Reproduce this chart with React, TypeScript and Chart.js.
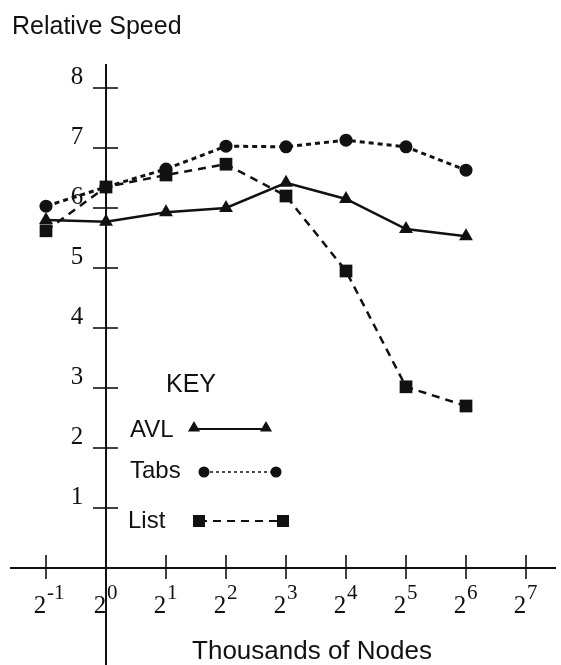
import React, { useEffect, useRef } from "react";
import { Chart, registerables } from "chart.js";

Chart.register(...registerables);

const exponents = [-1, 0, 1, 2, 3, 4, 5, 6];
const avlValues = [5.8, 5.77, 5.93, 6.0, 6.42, 6.15, 5.65, 5.53];
const tabsValues = [6.03, 6.35, 6.65, 7.03, 7.02, 7.13, 7.02, 6.63];
const listValues = [5.62, 6.35, 6.55, 6.73, 6.2, 4.95, 3.02, 2.7];
const yTicks = [1, 2, 3, 4, 5, 6, 7, 8];
const xTicks = [-1, 0, 1, 2, 3, 4, 5, 6, 7];
const yTitle = "Relative Speed";
const xTitle = "Thousands of Nodes";
const keyTitle = "KEY";
const seriesNames = ["AVL", "Tabs", "List"];

const SANS = "'Liberation Sans', Arial, sans-serif";
const SERIF = "'Liberation Serif', 'Times New Roman', serif";

const toPts = (vals: number[]) => vals.map((v, i) => ({ x: exponents[i], y: v }));

const axesPlugin = {
  id: "customAxes",
  beforeDatasetsDraw(chart: any) {
    const { ctx, chartArea, scales } = chart;
    const xs = scales.x;
    const ys = scales.y;
    const ax = xs.getPixelForValue(0);
    const ay = ys.getPixelForValue(0);
    ctx.save();
    ctx.strokeStyle = "#111";
    ctx.lineWidth = 2;
    ctx.beginPath();
    ctx.moveTo(ax, chartArea.top);
    ctx.lineTo(ax, chartArea.bottom);
    ctx.moveTo(chartArea.left, ay);
    ctx.lineTo(chartArea.right, ay);
    ctx.stroke();
    // y ticks
    ctx.lineWidth = 1.6;
    ctx.fillStyle = "#111";
    ctx.font = `25px ${SERIF}`;
    ctx.textAlign = "center";
    ctx.textBaseline = "middle";
    yTicks.forEach((t) => {
      const py = ys.getPixelForValue(t);
      ctx.beginPath();
      ctx.moveTo(ax - 13, py);
      ctx.lineTo(ax + 12, py);
      ctx.stroke();
      ctx.fillText(String(t), ax - 29, py - 11);
    });
    // x ticks
    xTicks.forEach((t) => {
      const px = xs.getPixelForValue(t);
      ctx.beginPath();
      ctx.moveTo(px, ay - 13);
      ctx.lineTo(px, ay + 11);
      ctx.stroke();
      ctx.font = `25px ${SERIF}`;
      ctx.textAlign = "center";
      ctx.textBaseline = "alphabetic";
      ctx.fillText("2", px - 6, ay + 45);
      ctx.font = `21px ${SERIF}`;
      ctx.textAlign = "left";
      ctx.fillText(String(t), px + 1, ay + 31);
    });
    // titles
    ctx.font = `25px ${SANS}`;
    ctx.textAlign = "left";
    ctx.textBaseline = "alphabetic";
    ctx.fillText(yTitle, 12, 34);
    ctx.font = `26px ${SANS}`;
    ctx.textAlign = "center";
    ctx.fillText(xTitle, 312, 659);
    ctx.restore();
  },
  afterDatasetsDraw(chart: any) {
    const { ctx } = chart;
    ctx.save();
    ctx.fillStyle = "#111";
    ctx.strokeStyle = "#111";
    ctx.font = `25px ${SANS}`;
    ctx.textBaseline = "middle";
    ctx.textAlign = "left";
    ctx.fillText(keyTitle, 166, 385);
    ctx.font = `24px ${SANS}`;
    ctx.fillText(seriesNames[0], 130, 430);
    ctx.fillText(seriesNames[1], 130, 471);
    ctx.fillText(seriesNames[2], 128, 521);
    // AVL
    ctx.lineWidth = 2;
    ctx.setLineDash([]);
    ctx.beginPath();
    ctx.moveTo(194, 429);
    ctx.lineTo(266, 429);
    ctx.stroke();
    const tri = (x: number, y: number, r: number) => {
      ctx.beginPath();
      ctx.moveTo(x, y - r);
      ctx.lineTo(x + r * 0.866, y + r / 2);
      ctx.lineTo(x - r * 0.866, y + r / 2);
      ctx.closePath();
      ctx.fill();
    };
    tri(194, 428, 7);
    tri(266, 428, 7);
    // Tabs
    ctx.lineWidth = 1.5;
    ctx.setLineDash([3, 3]);
    ctx.beginPath();
    ctx.moveTo(204, 472);
    ctx.lineTo(276, 472);
    ctx.stroke();
    ctx.setLineDash([]);
    [204, 276].forEach((x) => {
      ctx.beginPath();
      ctx.arc(x, 472, 5.5, 0, Math.PI * 2);
      ctx.fill();
    });
    // List
    ctx.lineWidth = 2;
    ctx.setLineDash([8, 6]);
    ctx.beginPath();
    ctx.moveTo(199, 521);
    ctx.lineTo(283, 521);
    ctx.stroke();
    ctx.setLineDash([]);
    ctx.fillRect(193, 515, 12, 12);
    ctx.fillRect(277, 515, 12, 12);
    ctx.restore();
  },
};

export default function App() {
  const ref = useRef<HTMLCanvasElement | null>(null);
  useEffect(() => {
    if (!ref.current) return;
    const chart = new Chart(ref.current, {
      type: "line",
      data: {
        datasets: [
          {
            label: seriesNames[0],
            data: toPts(avlValues),
            borderColor: "#111",
            backgroundColor: "#111",
            borderWidth: 2.5,
            pointStyle: "triangle",
            pointRadius: 8,
            pointBorderWidth: 0,
            order: 0,
          },
          {
            label: seriesNames[1],
            data: toPts(tabsValues),
            borderColor: "#111",
            backgroundColor: "#111",
            borderWidth: 3,
            borderDash: [5, 4],
            pointStyle: "circle",
            pointRadius: 6.5,
            pointBorderWidth: 0,
            order: 2,
          },
          {
            label: seriesNames[2],
            data: toPts(listValues),
            borderColor: "#111",
            backgroundColor: "#111",
            borderWidth: 2.5,
            borderDash: [8, 6],
            pointStyle: "rect",
            pointRadius: 9,
            pointBorderWidth: 0,
            order: 1,
          },
        ],
      },
      options: {
        responsive: false,
        animation: false,
        events: [],
        layout: { autoPadding: false, padding: { left: 10, right: 5, top: 64, bottom: 0 } },
        plugins: { legend: { display: false }, tooltip: { enabled: false } },
        scales: {
          x: { type: "linear", min: -1.6, max: 7.5, display: false },
          y: { type: "linear", min: -97 / 60, max: 8.4, display: false },
        },
      },
      plugins: [axesPlugin],
    });
    return () => chart.destroy();
  }, []);
  return (
    <div style={{ position: "absolute", left: 0, top: 0, width: 561, height: 665, background: "#fff" }}>
      <canvas ref={ref} width={561} height={665} />
    </div>
  );
}
